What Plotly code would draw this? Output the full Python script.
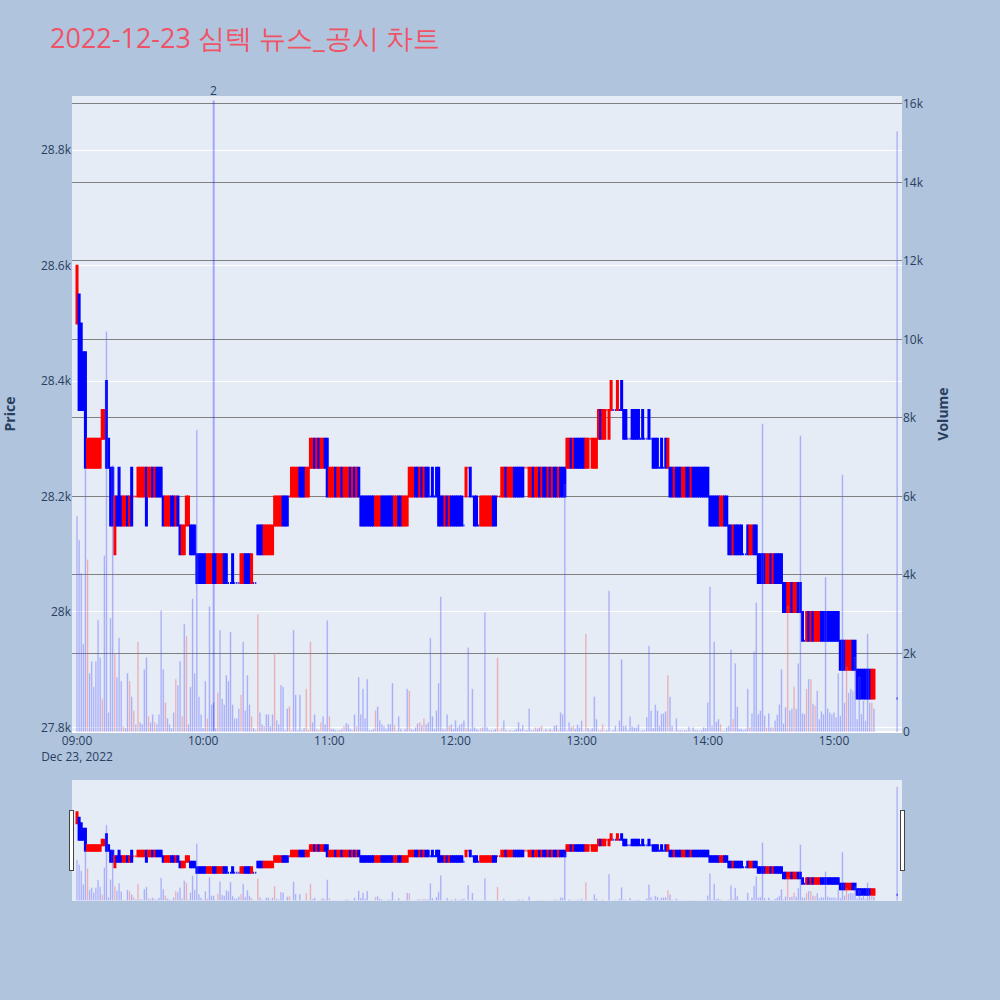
import pandas as pd
import plotly.graph_objects as go
from plotly.subplots import make_subplots

chart_title = "2022-12-23 심텍 뉴스_공시 차트"
start_time = "2022-12-23 09:00"
close_auction_time = "2022-12-23 15:30"
news_time = "2022-12-23 10:05"
news_label = "2"

opens = [
    28500, 28550, 28500, 28450, 28450, 28250, 28250, 28250, 28250, 28250, 28250, 28250, 28300, 28300, 28400, 28300, 28250, 28250, 28100, 28200,
    28250, 28200, 28150, 28150, 28200, 28150, 28250, 28200, 28200, 28200, 28200, 28200, 28200, 28250, 28200, 28200, 28250, 28200, 28250, 28250,
    28250, 28200, 28150, 28150, 28150, 28200, 28200, 28150, 28200, 28150, 28100, 28100, 28150, 28150, 28150, 28150, 28150, 28100, 28100, 28100,
    28100, 28100, 28050, 28050, 28050, 28100, 28100, 28050, 28050, 28050, 28100, 28100, 28050, 28050, 28100, 28050, 28050, 28050, 28050, 28050,
    28100, 28100, 28100, 28050, 28050, 28050, 28150, 28150, 28150, 28100, 28100, 28100, 28100, 28100, 28150, 28150, 28150, 28150, 28200, 28200,
    28200, 28200, 28200, 28200, 28200, 28200, 28250, 28250, 28250, 28200, 28200, 28250, 28250, 28300, 28250, 28300, 28250, 28250, 28300, 28300,
    28200, 28200, 28200, 28250, 28200, 28200, 28250, 28200, 28200, 28200, 28250, 28200, 28250, 28200, 28250, 28200, 28200, 28200, 28200, 28200,
    28200, 28200, 28150, 28150, 28150, 28200, 28200, 28200, 28200, 28200, 28200, 28150, 28150, 28200, 28200, 28150, 28150, 28150, 28200, 28200,
    28200, 28250, 28250, 28200, 28250, 28200, 28250, 28250, 28200, 28250, 28200, 28250, 28250, 28200, 28200, 28150, 28200, 28150, 28200, 28200,
    28200, 28200, 28200, 28200, 28150, 28200, 28250, 28250, 28200, 28200, 28200, 28150, 28150, 28150, 28150, 28150, 28150, 28150, 28200, 28200,
    28200, 28200, 28200, 28200, 28250, 28200, 28200, 28200, 28250, 28250, 28250, 28250, 28250, 28250, 28250, 28200, 28200, 28250, 28200, 28200,
    28250, 28200, 28250, 28250, 28200, 28250, 28200, 28250, 28250, 28200, 28250, 28250, 28250, 28250, 28250, 28300, 28250, 28300, 28300, 28300,
    28300, 28300, 28250, 28250, 28300, 28250, 28250, 28250, 28300, 28350, 28300, 28300, 28350, 28300, 28350, 28350, 28350, 28350, 28350, 28400,
    28350, 28350, 28300, 28300, 28350, 28350, 28350, 28350, 28300, 28350, 28300, 28300, 28350, 28300, 28300, 28300, 28300, 28250, 28300, 28250,
    28300, 28250, 28250, 28250, 28200, 28250, 28250, 28250, 28200, 28200, 28250, 28250, 28200, 28250, 28250, 28250, 28250, 28250, 28250, 28250,
    28250, 28200, 28200, 28200, 28200, 28200, 28150, 28150, 28200, 28200, 28150, 28150, 28100, 28150, 28150, 28150, 28150, 28100, 28100, 28150,
    28100, 28100, 28150, 28150, 28100, 28100, 28100, 28100, 28050, 28050, 28100, 28050, 28100, 28100, 28100, 28100, 28050, 28050, 28000, 28000,
    28050, 28000, 28000, 28050, 28050, 28000, 27950, 27950, 28000, 27950, 28000, 27950, 27950, 27950, 28000, 28000, 28000, 28000, 28000, 28000,
    28000, 28000, 28000, 27950, 27950, 27950, 27900, 27900, 27900, 27950, 27950, 27900, 27900, 27900, 27900, 27900, 27900, 27900, 27850, 27850,
    27850,
]

highs = [
    28600, 28550, 28500, 28450, 28450, 28300, 28300, 28300, 28300, 28300, 28300, 28300, 28350, 28350, 28400, 28300, 28250, 28250, 28200, 28200,
    28250, 28200, 28200, 28200, 28200, 28200, 28250, 28200, 28200, 28250, 28250, 28250, 28250, 28250, 28250, 28250, 28250, 28250, 28250, 28250,
    28250, 28200, 28200, 28200, 28200, 28200, 28200, 28200, 28200, 28150, 28150, 28150, 28200, 28200, 28150, 28150, 28150, 28100, 28100, 28100,
    28100, 28100, 28100, 28100, 28100, 28100, 28100, 28100, 28100, 28100, 28100, 28100, 28050, 28050, 28100, 28050, 28050, 28050, 28100, 28100,
    28100, 28100, 28100, 28100, 28050, 28050, 28150, 28150, 28150, 28150, 28150, 28150, 28150, 28150, 28200, 28200, 28200, 28200, 28200, 28200,
    28200, 28200, 28250, 28250, 28250, 28250, 28250, 28250, 28250, 28250, 28250, 28300, 28300, 28300, 28300, 28300, 28300, 28300, 28300, 28300,
    28250, 28250, 28250, 28250, 28250, 28250, 28250, 28250, 28250, 28250, 28250, 28250, 28250, 28250, 28250, 28200, 28200, 28200, 28200, 28200,
    28200, 28200, 28200, 28200, 28200, 28200, 28200, 28200, 28200, 28200, 28200, 28200, 28200, 28200, 28200, 28200, 28200, 28200, 28250, 28250,
    28250, 28250, 28250, 28250, 28250, 28250, 28250, 28250, 28200, 28250, 28200, 28250, 28250, 28200, 28200, 28200, 28200, 28200, 28200, 28200,
    28200, 28200, 28200, 28200, 28150, 28250, 28250, 28250, 28200, 28200, 28200, 28150, 28200, 28200, 28200, 28200, 28200, 28200, 28200, 28200,
    28200, 28200, 28250, 28250, 28250, 28250, 28250, 28250, 28250, 28250, 28250, 28250, 28250, 28250, 28250, 28250, 28250, 28250, 28250, 28250,
    28250, 28250, 28250, 28250, 28250, 28250, 28250, 28250, 28250, 28250, 28250, 28250, 28250, 28300, 28300, 28300, 28300, 28300, 28300, 28300,
    28300, 28300, 28300, 28300, 28300, 28300, 28300, 28300, 28350, 28350, 28350, 28350, 28350, 28350, 28400, 28350, 28350, 28400, 28350, 28400,
    28350, 28350, 28300, 28300, 28350, 28350, 28350, 28350, 28300, 28350, 28300, 28300, 28350, 28300, 28300, 28300, 28300, 28250, 28300, 28250,
    28300, 28300, 28250, 28250, 28250, 28250, 28250, 28250, 28250, 28250, 28250, 28250, 28250, 28250, 28250, 28250, 28250, 28250, 28250, 28250,
    28250, 28200, 28200, 28200, 28200, 28200, 28200, 28200, 28200, 28200, 28150, 28150, 28150, 28150, 28150, 28150, 28150, 28100, 28100, 28150,
    28150, 28150, 28150, 28150, 28100, 28100, 28100, 28100, 28100, 28100, 28100, 28100, 28100, 28100, 28100, 28100, 28050, 28050, 28050, 28050,
    28050, 28050, 28050, 28050, 28050, 28000, 27950, 28000, 28000, 28000, 28000, 28000, 28000, 28000, 28000, 28000, 28000, 28000, 28000, 28000,
    28000, 28000, 28000, 27950, 27950, 27950, 27950, 27950, 27950, 27950, 27950, 27900, 27900, 27900, 27900, 27900, 27900, 27900, 27900, 27900,
    27850,
]

lows = [
    28500, 28350, 28350, 28350, 28250, 28250, 28250, 28250, 28250, 28250, 28250, 28250, 28300, 28300, 28250, 28250, 28150, 28150, 28100, 28150,
    28150, 28150, 28150, 28150, 28150, 28150, 28150, 28200, 28200, 28200, 28200, 28200, 28200, 28150, 28200, 28200, 28200, 28200, 28200, 28200,
    28200, 28150, 28150, 28150, 28150, 28150, 28150, 28150, 28150, 28100, 28100, 28100, 28150, 28150, 28100, 28100, 28100, 28050, 28050, 28050,
    28050, 28050, 28050, 28050, 28050, 28050, 28050, 28050, 28050, 28050, 28050, 28050, 28050, 28050, 28050, 28050, 28050, 28050, 28050, 28050,
    28050, 28050, 28050, 28050, 28050, 28050, 28100, 28100, 28100, 28100, 28100, 28100, 28100, 28100, 28150, 28150, 28150, 28150, 28150, 28150,
    28150, 28200, 28200, 28200, 28200, 28200, 28200, 28200, 28200, 28200, 28200, 28250, 28250, 28250, 28250, 28250, 28250, 28250, 28250, 28200,
    28200, 28200, 28200, 28200, 28200, 28200, 28200, 28200, 28200, 28200, 28200, 28200, 28200, 28200, 28200, 28150, 28150, 28150, 28150, 28150,
    28150, 28150, 28150, 28150, 28150, 28150, 28150, 28150, 28150, 28150, 28150, 28150, 28150, 28150, 28150, 28150, 28150, 28150, 28200, 28200,
    28200, 28200, 28200, 28200, 28200, 28200, 28200, 28200, 28200, 28200, 28200, 28200, 28150, 28150, 28150, 28150, 28150, 28150, 28150, 28150,
    28150, 28150, 28150, 28150, 28150, 28200, 28250, 28200, 28200, 28150, 28150, 28150, 28150, 28150, 28150, 28150, 28150, 28150, 28150, 28150,
    28200, 28200, 28200, 28200, 28200, 28200, 28200, 28200, 28200, 28200, 28200, 28200, 28200, 28250, 28250, 28200, 28200, 28200, 28200, 28200,
    28200, 28200, 28200, 28200, 28200, 28200, 28200, 28200, 28200, 28200, 28200, 28200, 28200, 28250, 28250, 28250, 28250, 28250, 28250, 28250,
    28250, 28250, 28250, 28250, 28300, 28250, 28250, 28250, 28300, 28300, 28300, 28300, 28350, 28300, 28350, 28350, 28350, 28350, 28350, 28350,
    28300, 28300, 28300, 28300, 28300, 28300, 28300, 28300, 28300, 28300, 28300, 28300, 28300, 28300, 28250, 28250, 28250, 28250, 28250, 28250,
    28250, 28250, 28200, 28200, 28200, 28200, 28200, 28200, 28200, 28200, 28200, 28200, 28200, 28200, 28200, 28200, 28200, 28200, 28200, 28200,
    28200, 28150, 28150, 28150, 28150, 28150, 28150, 28150, 28150, 28150, 28100, 28100, 28100, 28100, 28100, 28100, 28100, 28100, 28100, 28100,
    28100, 28100, 28100, 28100, 28050, 28050, 28050, 28050, 28050, 28050, 28050, 28050, 28050, 28050, 28050, 28050, 28000, 28000, 28000, 28000,
    28000, 28000, 28000, 28000, 28000, 27950, 27950, 27950, 27950, 27950, 27950, 27950, 27950, 27950, 27950, 27950, 27950, 27950, 27950, 27950,
    27950, 27950, 27950, 27900, 27900, 27900, 27900, 27900, 27900, 27900, 27900, 27850, 27850, 27850, 27850, 27850, 27850, 27850, 27850, 27850,
    27850,
]

closes = [
    28600, 28350, 28350, 28350, 28250, 28300, 28300, 28300, 28300, 28300, 28300, 28300, 28350, 28350, 28250, 28250, 28150, 28150, 28200, 28150,
    28150, 28150, 28200, 28200, 28150, 28200, 28150, 28200, 28200, 28250, 28250, 28250, 28250, 28150, 28250, 28250, 28200, 28250, 28200, 28200,
    28200, 28150, 28200, 28200, 28200, 28150, 28150, 28200, 28150, 28100, 28150, 28150, 28200, 28200, 28100, 28100, 28100, 28050, 28050, 28050,
    28050, 28050, 28100, 28100, 28100, 28050, 28050, 28100, 28100, 28100, 28050, 28050, 28050, 28050, 28050, 28050, 28050, 28050, 28100, 28100,
    28050, 28050, 28050, 28100, 28050, 28050, 28100, 28100, 28100, 28150, 28150, 28150, 28150, 28150, 28200, 28200, 28200, 28200, 28150, 28150,
    28150, 28200, 28250, 28250, 28250, 28250, 28200, 28200, 28200, 28250, 28250, 28300, 28300, 28250, 28300, 28250, 28300, 28300, 28250, 28200,
    28250, 28250, 28250, 28200, 28250, 28250, 28200, 28250, 28250, 28250, 28200, 28250, 28200, 28250, 28200, 28150, 28150, 28150, 28150, 28150,
    28150, 28150, 28200, 28200, 28200, 28150, 28150, 28150, 28150, 28150, 28150, 28200, 28200, 28150, 28150, 28200, 28200, 28200, 28250, 28250,
    28250, 28200, 28200, 28250, 28200, 28250, 28200, 28200, 28200, 28200, 28200, 28200, 28150, 28150, 28150, 28200, 28150, 28200, 28150, 28150,
    28150, 28150, 28150, 28150, 28150, 28250, 28250, 28200, 28200, 28150, 28150, 28150, 28200, 28200, 28200, 28200, 28200, 28200, 28150, 28150,
    28200, 28200, 28250, 28250, 28200, 28250, 28250, 28250, 28200, 28200, 28200, 28200, 28200, 28250, 28250, 28250, 28250, 28200, 28250, 28250,
    28200, 28250, 28200, 28200, 28250, 28200, 28250, 28200, 28200, 28250, 28200, 28200, 28200, 28300, 28300, 28250, 28300, 28250, 28250, 28250,
    28250, 28250, 28300, 28300, 28300, 28300, 28300, 28300, 28350, 28300, 28350, 28350, 28350, 28350, 28400, 28350, 28350, 28400, 28350, 28350,
    28300, 28300, 28300, 28300, 28300, 28300, 28300, 28300, 28300, 28300, 28300, 28300, 28300, 28300, 28250, 28250, 28250, 28250, 28250, 28250,
    28250, 28300, 28200, 28200, 28250, 28200, 28200, 28200, 28250, 28250, 28200, 28200, 28250, 28200, 28200, 28200, 28200, 28200, 28200, 28200,
    28200, 28150, 28150, 28150, 28150, 28150, 28200, 28200, 28150, 28150, 28100, 28100, 28150, 28100, 28100, 28100, 28100, 28100, 28100, 28100,
    28150, 28150, 28100, 28100, 28050, 28050, 28050, 28050, 28100, 28100, 28050, 28100, 28050, 28050, 28050, 28050, 28000, 28000, 28050, 28050,
    28000, 28050, 28050, 28000, 28000, 27950, 27950, 28000, 27950, 28000, 27950, 28000, 28000, 28000, 27950, 27950, 27950, 27950, 27950, 27950,
    27950, 27950, 27950, 27900, 27900, 27900, 27950, 27950, 27950, 27900, 27900, 27850, 27850, 27850, 27850, 27850, 27850, 27850, 27900, 27900,
    27850,
]

volumes = [
    5500, 4900, 4050, 2250, 6700, 4400, 1500, 1800, 1150, 1800,
    2850, 1900, 850, 4500, 10200, 500, 2900, 6800, 2000, 1400,
    2400, 1300, 150, 100, 1500, 1300, 900, 550, 200, 2300,
    250, 200, 1600, 1900, 400, 250, 450, 250, 200, 450,
    3100, 1600, 750, 350, 200, 100, 500, 1350, 1200, 1800,
    400, 2750, 2450, 200, 1150, 3400, 1500, 7700, 900, 450,
    100, 1300, 350, 3200, 700, 750, 100, 1000, 2600, 850,
    700, 1450, 1300, 2550, 700, 350, 350, 600, 950, 2300,
    550, 1450, 700, 400, 100, 50, 3000, 500, 200, 150,
    450, 450, 150, 450, 2000, 300, 200, 1200,
    1150, 50, 600, 650, 50, 2600, 950, 50, 950, 50,
    100, 1100, 50, 2300, 250, 450, 80, 50, 250, 400,
    200, 2850, 400, 80, 80, 50, 50, 50, 80, 150,
    230, 200, 80, 50, 450, 150, 1400, 450, 1100, 350,
    1350, 50, 50, 80, 550, 650, 300, 200, 150, 80,
    200, 200, 1250, 180, 30, 400, 80, 30, 80, 1100,
    1050, 80, 50, 120, 220, 250, 180, 350, 200, 250,
    2400, 400, 80, 550, 1250, 3450, 80, 80, 450, 160,
    200, 80, 300, 120, 180, 220, 290, 100, 2150, 80,
    1100, 120, 80, 50, 100, 120, 3050, 120,
    50, 50, 50, 80, 1900, 30, 120, 300, 50, 30,
    50, 30, 50, 80, 250, 80, 180, 50, 50, 600,
    50, 50, 120, 80, 120, 160, 30, 80, 50, 80,
    50, 160, 180, 50, 500, 450, 6300, 50, 250, 120,
    160, 80, 190, 120, 290, 30, 2500, 100, 50, 100,
    900, 330, 50, 50, 200, 30, 50, 3600, 30, 50,
    160, 30, 290, 1850, 160, 160, 50, 400, 140, 120,
    120, 190, 30, 50, 50, 380, 2200, 550, 100, 700,
    550, 160, 460, 480, 530, 1450, 900, 160, 30, 350,
    50, 50, 50, 50, 50, 140, 50, 120, 50,
    50,
    30, 50, 120, 100, 750, 3700, 160, 2300, 260, 330,
    200, 30, 30, 120, 160, 2100, 330, 1750, 650, 80,
    80, 50, 80, 1100, 120, 480, 2050, 3300, 460, 550,
    7850, 420, 120, 480, 120, 120, 290, 440, 700, 1600,
    220, 630, 3200, 550, 600, 1150, 600, 1750, 7550, 480,
    460, 1100, 1350, 1350, 720, 680, 1050, 330, 530, 460,
    3950, 600, 500, 460, 500, 380, 1500, 420, 6550, 750,
    1650, 1000, 1100, 1050, 1900, 330, 1400, 460, 800, 290,
    2500, 750, 750,
    600,
    15300,
]

times = list(pd.date_range(start_time, periods=len(opens) - 1, freq="min")) + [pd.Timestamp(close_auction_time)]

vol_colors = ["blue"] + ["red" if closes[i] > closes[i - 1] else "blue" for i in range(1, len(closes))]

fig = make_subplots(specs=[[{"secondary_y": True}]])

fig.add_trace(
    go.Candlestick(
        x=times, open=opens, high=highs, low=lows, close=closes,
        increasing=dict(line=dict(color="red"), fillcolor="red"),
        decreasing=dict(line=dict(color="blue"), fillcolor="blue"),
        showlegend=False, name="Price",
    ),
    secondary_y=False,
)
fig.add_trace(
    go.Bar(x=times, y=volumes, marker_color=vol_colors, opacity=0.3, showlegend=False, name="Volume"),
    secondary_y=True,
)

fig.add_shape(type="line", xref="x", yref="y", x0=news_time, x1=news_time, y0=27794, y1=28886,
              line=dict(color="rgba(0,0,255,0.3)", width=2))
fig.add_annotation(x=news_time, y=28886, xref="x", yref="y", text=news_label, showarrow=False,
                   yanchor="bottom", font=dict(size=12, color="#2a3f5f"))

fig.update_layout(
    width=1000, height=1000,
    paper_bgcolor="lightsteelblue",
    title=dict(text=chart_title, x=0.05, font=dict(size=27, color="rgb(239,83,102)")),
    margin=dict(l=72, r=98, t=96, b=100),
    showlegend=False,
    bargap=0.2,
)
fig.update_xaxes(showgrid=False, domain=[0, 1],
                 range=["2022-12-23 08:57:37", "2022-12-23 15:32:20"],
                 rangeslider=dict(visible=True))
fig.update_yaxes(title_text="<b>Price</b>", title_standoff=22, automargin=False,
                 range=[27792, 28894], secondary_y=False)
fig.update_yaxes(title_text="<b>Volume</b>", range=[0, 16200], gridcolor="gray", showgrid=True, secondary_y=True)

fig.write_html("out.html", config={"displayModeBar": False},
               post_script="document.body.style.margin='0';")
